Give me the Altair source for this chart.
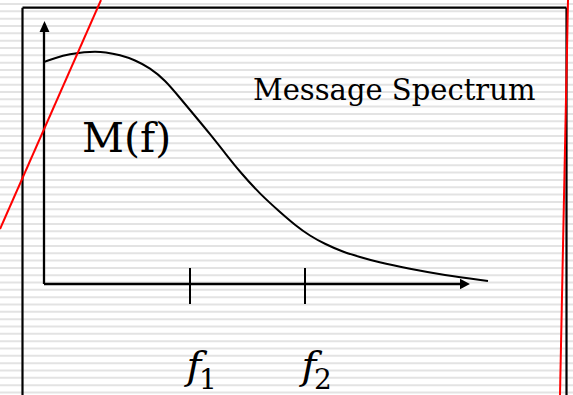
import altair as alt
import numpy as np
import pandas as pd

W, H = 573, 395

# Message spectrum M(f): frequency vs magnitude (axis units, origin at the axes' corner)
freq = [0, 1.1, 2.6, 4.1, 5.1, 6.1, 7.6, 9.1, 10.6, 12.1, 13.6, 15.1, 16.6, 18.1,
        19.6, 21.6, 23.6, 25.1, 26.6, 28.1, 29.9, 31.6, 33.3, 36.6, 39.9, 44.4]
mag = [22.2, 22.6, 23.0, 23.2, 23.25, 23.2, 22.9, 22.4, 21.6, 20.4, 18.6, 16.8, 15.0,
       13.1, 11.2, 9.0, 7.2, 5.9, 4.8, 4.0, 3.2, 2.7, 2.2, 1.5, 0.9, 0.3]

# band edges f1, f2 on the frequency axis
tick_sub = ["1", "2"]
tick_freq = [14.6, 26.1]

# axis extents (arrow tips)
x_axis_end = 42.6
y_axis_end = 26.3

# slide frame and the two red pen strokes (segments: x, y -> x2, y2)
frame_x = [-2.15, -2.15, 52.25]
frame_y = [27.63, 27.63, 27.63]
frame_x2 = [52.25, -2.15, 52.25]
frame_y2 = [27.63, -11.6, -11.6]

red_x = [5.7, 52.4]
red_y = [28.4, 28.4]
red_x2 = [-4.4, 51.6]
red_y2 = [5.5, -11.1]

xs = alt.Scale(domain=[-4.4, 52.9], nice=False, zero=False)
ys = alt.Scale(domain=[-11.1, 28.4], nice=False, zero=False)

def X(f="x"):
    return alt.X(f"{f}:Q", scale=xs, axis=None)

def Y(f="y"):
    return alt.Y(f"{f}:Q", scale=ys, axis=None)

# ruled-paper background
stripe_px = 4 + 7.33 * np.arange(54)
stripes = pd.DataFrame({"y": (284 - stripe_px) / 10})
bg = alt.Chart(stripes).mark_rule(color="#e3e3e3", strokeWidth=2).encode(
    x=alt.value(0), x2=alt.value(W), y=Y()
)

frame = alt.Chart(pd.DataFrame({"x": frame_x, "y": frame_y, "x2": frame_x2, "y2": frame_y2})).mark_rule(
    color="black", strokeWidth=2.2
).encode(x=X(), y=Y(), x2="x2:Q", y2="y2:Q")

axes = alt.Chart(pd.DataFrame({"x": [0, 0], "y": [0, 0], "x2": [0, x_axis_end - 0.8], "y2": [y_axis_end - 0.9, 0]})).mark_rule(
    color="black", strokeWidth=2.3
).encode(x=X(), y=Y(), x2="x2:Q", y2="y2:Q")

arrow_up = alt.Chart(pd.DataFrame({"x": [0.05], "y": [y_axis_end - 0.55]})).mark_point(
    shape="M0,-1L0.9,1L-0.9,1Z", size=121, filled=True, color="black", opacity=1
).encode(x=X(), y=Y())

arrow_right = alt.Chart(pd.DataFrame({"x": [x_axis_end - 0.53], "y": [0]})).mark_point(
    shape="M1,0L-0.9,-1L-0.9,1Z", size=110, filled=True, color="black", opacity=1
).encode(x=X(), y=Y())

ticks_df = pd.DataFrame({"x": tick_freq, "sub": tick_sub, "y": [1.6] * 2, "y2": [-2.0] * 2})
ticks = alt.Chart(ticks_df).mark_rule(color="black", strokeWidth=2).encode(
    x=X(), y=Y(), y2="y2:Q"
)

curve = alt.Chart(pd.DataFrame({"x": freq, "y": mag})).mark_line(
    color="black", strokeWidth=2, interpolate="basis"
).encode(x=X(), y=Y())

serif = "DejaVu Serif"

f_lbl = alt.Chart(ticks_df).mark_text(
    text="f", font=serif, fontStyle="italic", fontSize=40, align="center", baseline="alphabetic", dx=4, color="black"
).encode(x=X(), y=alt.value(379))

sub_lbl = alt.Chart(ticks_df).mark_text(
    font=serif, fontSize=28, align="center", baseline="alphabetic", dx=18, color="black"
).encode(x=X(), y=alt.value(389), text="sub:N")

m_lbl = alt.Chart(pd.DataFrame({"x": [3.8], "y": [13.2], "t": ["M(f)"]})).mark_text(
    font=serif, fontSize=41, align="left", baseline="alphabetic", color="black"
).encode(x=X(), y=Y(), text="t:N")

title_lbl = alt.Chart(pd.DataFrame({"x": [20.9], "y": [18.45], "t": ["Message Spectrum"]})).mark_text(
    font=serif, fontSize=29, align="left", baseline="alphabetic", color="black"
).encode(x=X(), y=Y(), text="t:N")

red = alt.Chart(pd.DataFrame({"x": red_x, "y": red_y, "x2": red_x2, "y2": red_y2})).mark_rule(
    color="#ff0000", strokeWidth=2
).encode(x=X(), y=Y(), x2="x2:Q", y2="y2:Q")

chart = alt.layer(
    bg, frame, axes, arrow_up, arrow_right, ticks, curve, f_lbl, sub_lbl, m_lbl, title_lbl, red
).properties(
    width=W, height=H, background="white", padding=0,
    autosize=alt.AutoSizeParams(type="none")
).configure_view(stroke=None)

chart.save("out.html", embed_options={"renderer": "svg", "actions": False})
